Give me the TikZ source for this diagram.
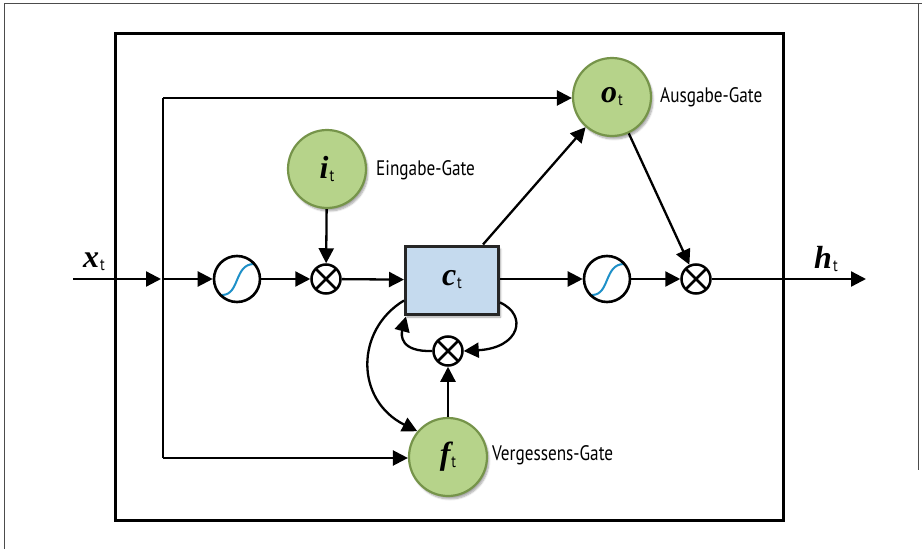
\documentclass[tikz,border=0pt]{standalone}
\usepackage{fontspec}
\setmainfont{Liberation Serif}
\newfontfamily\labelfont{PT Sans}[FakeStretch=0.82]
\usetikzlibrary{arrows.meta,shadows.blur,calc}

\definecolor{gatefill}{HTML}{B6D38A}
\definecolor{gateline}{HTML}{76944A}
\definecolor{cellfill}{HTML}{C5DAEE}
\definecolor{sigblue}{HTML}{1E90C8}

% bold italic variable with an upright sans subscript t
\newcommand\gatevar[1]{{\fontsize{32}{32}\selectfont\bfseries\itshape #1}\kern1pt\raisebox{-3pt}{\labelfont\fontsize{17}{17}\selectfont t}}

\begin{document}
\begin{tikzpicture}[x=1pt,y=-1pt,
  wire/.style={line width=2.3pt},
  conn/.style={line width=2.3pt,-{Triangle[length=15pt,width=15pt]}},
  gate/.style={circle,minimum size=78pt,inner sep=0pt,fill=gatefill,draw=gateline,line width=2.2pt,
    blur shadow={shadow xshift=2pt,shadow yshift=-3pt,shadow opacity=35,shadow blur steps=6}},
  cell/.style={rectangle,minimum width=93pt,minimum height=68pt,inner sep=0pt,fill=cellfill,draw=black!85,line width=3pt,
    blur shadow={shadow xshift=2pt,shadow yshift=-3pt,shadow opacity=35,shadow blur steps=6}},
  sigm/.style={circle,minimum size=46pt,inner sep=0pt,fill=white,draw,line width=2.6pt,
    path picture={\draw[sigblue,line width=2pt]
      ([shift={(-15pt,-16pt)}]path picture bounding box.center)
      .. controls ([shift={(3pt,-16pt)}]path picture bounding box.center)
      and ([shift={(-3pt,15pt)}]path picture bounding box.center)
      .. ([shift={(17pt,15pt)}]path picture bounding box.center);}},
  mult/.style={circle,minimum size=29pt,inner sep=0pt,fill=white,draw,line width=2.5pt,
    path picture={\draw[line width=2.5pt]
      (path picture bounding box.south west) -- (path picture bounding box.north east)
      (path picture bounding box.north west) -- (path picture bounding box.south east);}},
  gatelabel/.style={anchor=west,inner sep=0pt,font=\labelfont\fontsize{21}{21}\selectfont},
  varlabel/.style={inner sep=0pt}]
\useasboundingbox (0,0) rectangle (922,549);

% page rule and frame
\draw[black!70,line width=0.8pt] (4,549) -- (4,3) -- (922,3);
\draw[black!70,line width=0.8pt] (918,3) -- (918,470);
\draw[line width=3pt] (115,33) rectangle (783,520);

% nodes
\node[gate] (ot) at (612,97) {\gatevar{o}};
\node[gate] (it) at (327,169) {\gatevar{i}};
\node[gate] (ft) at (448,457) {\gatevar{f}};
\node[cell] (ct) at (452,280) {\gatevar{c}};
\node[sigm] (s1) at (237,279) {};
\node[sigm] (s2) at (607,279) {};
\node[mult] (m1) at (326,279) {};
\node[mult] (m2) at (696,279) {};
\node[mult] (m3) at (448,351) {};

\node[gatelabel] (lo) at (660,97) {Ausgabe-Gate};
\node[gatelabel] (li) at (376,170) {Eingabe-Gate};
\node[gatelabel] (lf) at (492,455) {Vergessens-Gate};

\node[varlabel] (xl) at (94,262) {\gatevar{x}};
\node[varlabel] (hl) at (826,259) {\gatevar{h}};

% wiring coordinates
\coordinate (xin) at (73,279);
\coordinate (jx) at (163,279);
\coordinate (jtop) at (163,98);
\coordinate (jbot) at (163,458);
\coordinate (hout) at (866,279);

% connectors
\draw[conn,shorten >=2pt] (xin) -- (jx);
\draw[wire] (jtop) -- (jbot);
\draw[conn] (jx) -- (s1);
\draw[conn] (jtop) -- (jtop -| ot.west);
\draw[conn] (jbot) -- (jbot -| ft.west);
\draw[conn] (s1) -- (m1);
\draw[conn] (it) -- (m1);
\draw[conn] (m1) -- (ct);
\draw[conn] (ct.east |- s2) -- (s2);
\draw[conn] (s2) -- (m2);
\draw[conn] (ot) -- (m2);
\draw[conn] ([xshift=-17pt]ct.north east) -- (ot);
\draw[conn] (m2) -- (hout);
\draw[conn] (ft) -- (m3);
\draw[conn] (m3.west) .. controls (400,352) and (401,335) .. ([xshift=2pt,yshift=-1pt]ct.south west);
\draw[conn] ([yshift=13pt]ct.south east) .. controls (528,315) and (520,348) .. (m3.east);
\draw[conn] ([yshift=15pt]ct.south west) .. controls (355,330) and (355,400) .. (ft.140);
\end{tikzpicture}
\end{document}
